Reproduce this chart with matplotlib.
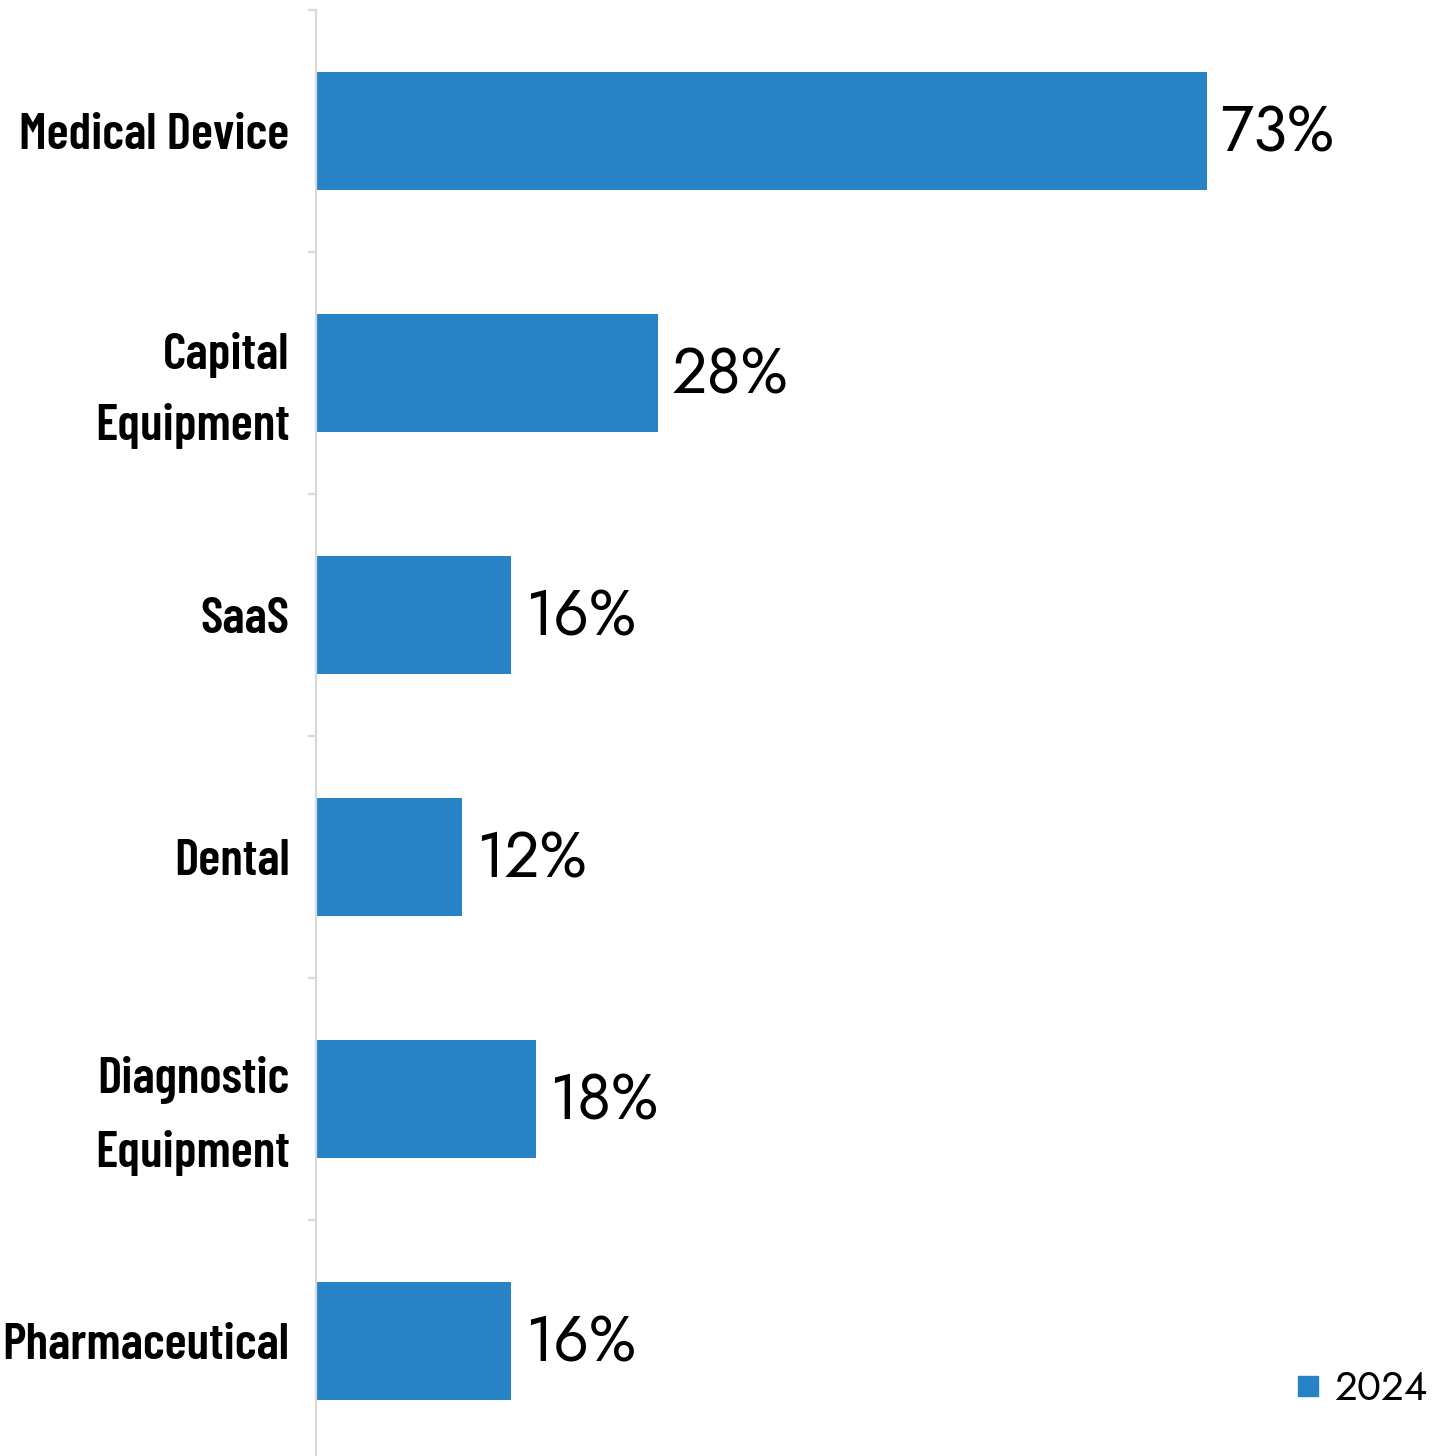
import matplotlib.pyplot as plt
from matplotlib.lines import Line2D
import numpy as np

categories = ['Medical Device', 'Capital\nEquipment', 'SaaS', 'Dental',
              'Diagnostic\nEquipment', 'Pharmaceutical']
values = [73, 28, 16, 12, 18, 16]
series_name = '2024'

bar_color = '#2783c6'
axis_color = '#d9d9d9'
label_font = ['Barlow Condensed', 'DejaVu Sans']
value_font = ['Jost', 'Lato', 'DejaVu Sans']

W, H = 1442, 1456
fig = plt.figure(figsize=(W / 100, H / 100), dpi=100, facecolor='w')
# axes: left spine at x=316px, top at y=10px, 242px per category
ax = fig.add_axes([316 / W, -6 / H, (W - 316) / W, 1452 / H])

pos = np.arange(len(categories))
ax.barh(pos, values, height=0.49, color=bar_color)
ax.set_ylim(len(categories) - 0.5, -0.5)
ax.set_xlim(0, (W - 316) / 12.2)

for p, v in zip(pos, values):
    ax.annotate(f'{v}%', xy=(v, p), xytext=(10, -2), textcoords='offset points',
                va='center', ha='left', fontsize=45, family=value_font, color='black')

for s in ['top', 'right', 'bottom']:
    ax.spines[s].set_visible(False)
ax.spines['left'].set_color(axis_color)
ax.spines['left'].set_linewidth(1.6)
ax.set_xticks([])

ax.set_yticks(pos)
ax.set_yticklabels(categories, family=label_font, fontweight=600, fontsize=37,
                   linespacing=1.7)
ax.set_yticks(np.arange(-0.5, len(categories)), minor=True)
ax.tick_params(axis='y', which='major', length=0, pad=19)
ax.tick_params(axis='y', which='minor', length=6, width=1.6, color=axis_color)

handle = Line2D([], [], marker='s', linestyle='none', markersize=15,
                color=bar_color)
fig.legend([handle], [series_name], loc='center right',
           bbox_to_anchor=(1428 / W, 1 - 1389 / H), frameon=False,
           borderaxespad=0, borderpad=0, handletextpad=0.25, handlelength=0.8,
           prop={'family': value_font, 'size': 29})

fig.savefig('out.png', dpi=100)
